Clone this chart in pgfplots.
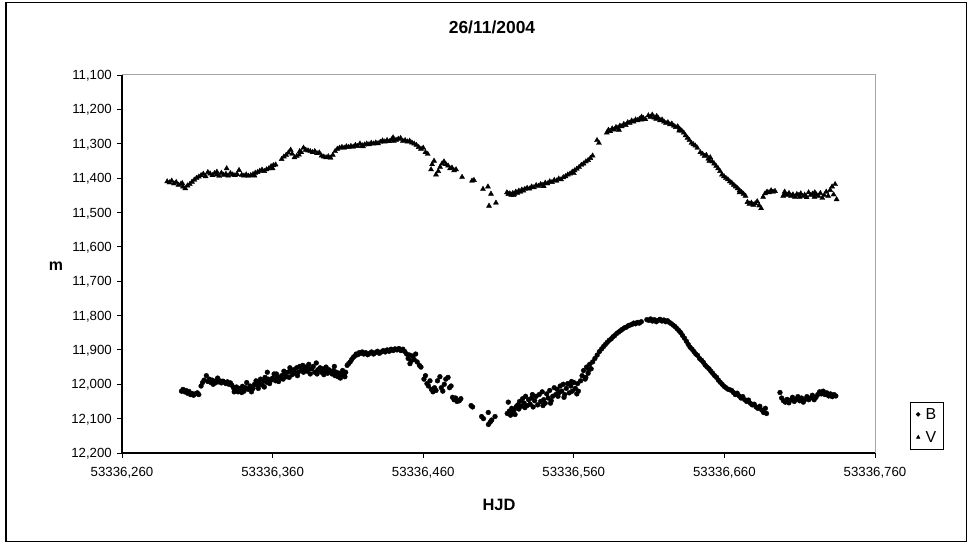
\documentclass[border=0pt]{standalone}
\usepackage{fontspec}
\setmainfont{Liberation Sans}
\usepackage{pgfplots}
\pgfplotsset{compat=1.18}
\usepackage{pgfplotstable}

% column d = HJD - 53336
\pgfplotstableread{
d m
0.2900 11.410
0.2915 11.413
0.2930 11.408
0.2945 11.416
0.2960 11.412
0.2975 11.420
0.2990 11.418
0.3000 11.415
0.3005 11.425
0.3020 11.430
0.3035 11.422
0.3050 11.418
0.3065 11.411
0.3080 11.405
0.3095 11.400
0.3110 11.396
0.3125 11.392
0.3140 11.388
0.3155 11.395
0.3170 11.383
0.3185 11.387
0.3200 11.392
0.3215 11.386
0.3230 11.390
0.3230 11.382
0.3245 11.394
0.3260 11.385
0.3275 11.391
0.3290 11.388
0.3295 11.372
0.3305 11.393
0.3320 11.386
0.3335 11.390
0.3350 11.392
0.3365 11.389
0.3377 11.377
0.3395 11.391
0.3410 11.393
0.3425 11.390
0.3440 11.394
0.3455 11.392
0.3470 11.389
0.3480 11.393
0.3485 11.385
0.3500 11.383
0.3515 11.379
0.3530 11.376
0.3545 11.380
0.3560 11.375
0.3575 11.372
0.3590 11.366
0.3600 11.372
0.3605 11.363
0.3620 11.361
0.3660 11.345
0.3675 11.338
0.3690 11.333
0.3705 11.326
0.3720 11.318
0.3730 11.330
0.3745 11.340
0.3760 11.336
0.3775 11.332
0.3780 11.322
0.3790 11.325
0.3805 11.312
0.3820 11.318
0.3835 11.320
0.3850 11.322
0.3865 11.325
0.3880 11.322
0.3895 11.328
0.3910 11.326
0.3925 11.335
0.3940 11.338
0.3955 11.340
0.3970 11.337
0.3985 11.341
0.4000 11.333
0.4015 11.322
0.4030 11.315
0.4045 11.312
0.4060 11.310
0.4075 11.312
0.4090 11.308
0.4105 11.310
0.4120 11.307
0.4135 11.309
0.4150 11.304
0.4165 11.307
0.4180 11.300
0.4195 11.305
0.4200 11.308
0.4210 11.303
0.4225 11.300
0.4240 11.302
0.4255 11.298
0.4270 11.300
0.4285 11.297
0.4300 11.299
0.4315 11.295
0.4330 11.291
0.4345 11.294
0.4360 11.290
0.4375 11.293
0.4390 11.288
0.4400 11.282
0.4405 11.292
0.4420 11.289
0.4435 11.286
0.4450 11.284
0.4465 11.292
0.4480 11.290
0.4495 11.294
0.4510 11.292
0.4525 11.297
0.4540 11.300
0.4555 11.304
0.4570 11.310
0.4585 11.315
0.4600 11.312
0.4615 11.325
0.4630 11.330
0.4652 11.375
0.4659 11.360
0.4672 11.350
0.4685 11.390
0.4700 11.380
0.4712 11.368
0.4725 11.358
0.4738 11.352
0.4751 11.360
0.4765 11.364
0.4778 11.372
0.4791 11.370
0.4805 11.378
0.4818 11.375
0.4858 11.397
0.4924 11.408
0.4937 11.406
0.4997 11.432
0.5030 11.425
0.5037 11.481
0.5050 11.446
0.5083 11.472
0.5156 11.442
0.5165 11.447
0.5175 11.445
0.5185 11.449
0.5195 11.444
0.5200 11.450
0.5205 11.446
0.5215 11.440
0.5225 11.443
0.5235 11.437
0.5245 11.440
0.5255 11.434
0.5265 11.437
0.5275 11.432
0.5290 11.429
0.5305 11.431
0.5320 11.425
0.5335 11.427
0.5350 11.421
0.5365 11.423
0.5380 11.418
0.5395 11.420
0.5400 11.424
0.5410 11.414
0.5425 11.416
0.5440 11.410
0.5455 11.412
0.5470 11.406
0.5485 11.408
0.5500 11.402
0.5515 11.404
0.5530 11.398
0.5545 11.395
0.5560 11.390
0.5575 11.387
0.5590 11.382
0.5600 11.386
0.5605 11.378
0.5620 11.373
0.5635 11.368
0.5650 11.362
0.5665 11.358
0.5680 11.352
0.5695 11.348
0.5710 11.342
0.5725 11.335
0.5754 11.290
0.5767 11.298
0.5819 11.268
0.5830 11.260
0.5842 11.264
0.5855 11.256
0.5868 11.259
0.5880 11.252
0.5893 11.254
0.5900 11.260
0.5906 11.248
0.5919 11.250
0.5932 11.243
0.5945 11.246
0.5958 11.238
0.5971 11.240
0.5984 11.233
0.5997 11.236
0.6010 11.230
0.6023 11.232
0.6036 11.228
0.6049 11.230
0.6050 11.222
0.6062 11.226
0.6075 11.229
0.6095 11.218
0.6108 11.222
0.6121 11.216
0.6134 11.224
0.6147 11.228
0.6150 11.220
0.6160 11.225
0.6173 11.232
0.6186 11.230
0.6199 11.236
0.6212 11.240
0.6225 11.238
0.6238 11.244
0.6251 11.242
0.6264 11.248
0.6277 11.252
0.6290 11.250
0.6300 11.262
0.6303 11.257
0.6316 11.262
0.6330 11.268
0.6342 11.276
0.6355 11.283
0.6368 11.290
0.6381 11.298
0.6394 11.302
0.6407 11.306
0.6420 11.312
0.6440 11.325
0.6455 11.330
0.6468 11.336
0.6480 11.333
0.6493 11.344
0.6500 11.350
0.6506 11.340
0.6519 11.352
0.6532 11.358
0.6545 11.365
0.6558 11.372
0.6571 11.380
0.6584 11.390
0.6597 11.395
0.6610 11.400
0.6623 11.404
0.6636 11.410
0.6649 11.414
0.6662 11.420
0.6675 11.425
0.6688 11.430
0.6700 11.442
0.6701 11.436
0.6714 11.441
0.6727 11.446
0.6740 11.452
0.6753 11.470
0.6766 11.475
0.6779 11.472
0.6792 11.478
0.6805 11.474
0.6818 11.468
0.6831 11.480
0.6844 11.488
0.6857 11.455
0.6870 11.445
0.6883 11.440
0.6896 11.442
0.6910 11.436
0.6923 11.440
0.6936 11.438
0.6990 11.452
0.7000 11.440
0.7003 11.446
0.7016 11.449
0.7029 11.444
0.7042 11.452
0.7055 11.448
0.7068 11.455
0.7081 11.447
0.7094 11.450
0.7100 11.455
0.7107 11.445
0.7120 11.453
0.7133 11.449
0.7146 11.456
0.7159 11.442
0.7172 11.450
0.7185 11.446
0.7198 11.455
0.7200 11.442
0.7211 11.448
0.7224 11.452
0.7237 11.444
0.7250 11.458
0.7263 11.450
0.7276 11.440
0.7289 11.452
0.7302 11.435
0.7315 11.425
0.7325 11.448
0.7335 11.418
0.7345 11.462
}\Vdata

\pgfplotstableread{
d m
0.2995 12.020
0.3005 12.015
0.3015 12.022
0.3025 12.018
0.3035 12.026
0.3045 12.021
0.3055 12.030
0.3065 12.027
0.3075 12.032
0.3085 12.028
0.3100 12.025
0.3110 12.030
0.3125 12.005
0.3135 11.995
0.3145 11.988
0.3160 11.975
0.3170 11.992
0.3180 11.985
0.3190 11.995
0.3200 11.988
0.3205 12.000
0.3210 11.992
0.3220 11.996
0.3230 11.989
0.3235 11.982
0.3240 11.993
0.3250 11.990
0.3260 11.996
0.3270 11.991
0.3280 11.994
0.3290 11.998
0.3300 11.993
0.3310 12.000
0.3320 11.996
0.3330 12.003
0.3340 12.010
0.3345 12.022
0.3350 12.018
0.3360 12.008
0.3370 12.022
0.3380 12.012
0.3390 12.016
0.3395 12.024
0.3400 12.006
0.3410 12.020
0.3420 12.010
0.3428 11.995
0.3440 12.015
0.3450 12.005
0.3460 12.022
0.3470 12.012
0.3480 12.000
0.3490 11.990
0.3500 12.004
0.3505 12.012
0.3510 11.995
0.3520 11.985
0.3530 12.002
0.3540 11.990
0.3545 12.008
0.3550 11.980
0.3560 11.994
0.3565 11.965
0.3570 11.985
0.3580 11.998
0.3590 11.988
0.3600 11.982
0.3610 11.970
0.3620 11.990
0.3625 11.970
0.3630 11.978
0.3640 11.992
0.3650 11.982
0.3660 11.975
0.3670 11.985
0.3675 11.962
0.3680 11.968
0.3690 11.978
0.3700 11.965
0.3710 11.980
0.3715 11.952
0.3720 11.960
0.3730 11.972
0.3740 11.958
0.3750 11.968
0.3760 11.952
0.3765 11.975
0.3770 11.965
0.3780 11.948
0.3790 11.960
0.3800 11.945
0.3805 11.965
0.3810 11.958
0.3820 11.950
0.3830 11.962
0.3840 11.942
0.3845 11.955
0.3850 11.970
0.3860 11.955
0.3870 11.948
0.3880 11.965
0.3890 11.938
0.3895 11.970
0.3900 11.958
0.3915 11.952
0.3925 11.965
0.3935 11.955
0.3940 11.972
0.3945 11.960
0.3955 11.950
0.3965 11.968
0.3975 11.958
0.3985 11.962
0.3995 11.970
0.4005 11.960
0.4010 11.948
0.4015 11.975
0.4025 11.965
0.4035 11.978
0.4045 11.968
0.4050 11.982
0.4055 11.972
0.4065 11.960
0.4075 11.974
0.4080 11.978
0.4085 11.965
0.4095 11.945
0.4105 11.940
0.4115 11.935
0.4125 11.928
0.4135 11.922
0.4145 11.918
0.4155 11.912
0.4165 11.914
0.4175 11.908
0.4185 11.910
0.4195 11.906
0.4205 11.912
0.4218 11.908
0.4231 11.914
0.4244 11.910
0.4257 11.906
0.4270 11.912
0.4283 11.908
0.4296 11.904
0.4309 11.910
0.4322 11.906
0.4335 11.902
0.4348 11.906
0.4361 11.900
0.4374 11.904
0.4387 11.898
0.4400 11.902
0.4413 11.897
0.4426 11.900
0.4439 11.896
0.4452 11.902
0.4465 11.898
0.4478 11.905
0.4490 11.912
0.4500 11.925
0.4510 11.915
0.4512 11.940
0.4520 11.932
0.4530 11.918
0.4540 11.928
0.4550 11.912
0.4560 11.935
0.4575 11.945
0.4585 11.950
0.4605 11.985
0.4615 11.975
0.4625 11.998
0.4635 12.005
0.4645 11.990
0.4655 12.015
0.4665 12.022
0.4675 12.010
0.4685 12.018
0.4695 11.990
0.4711 11.978
0.4720 12.010
0.4730 12.020
0.4740 12.000
0.4750 11.985
0.4765 11.980
0.4775 12.010
0.4785 12.005
0.4795 12.038
0.4805 12.045
0.4815 12.040
0.4825 12.050
0.4840 12.048
0.4850 12.042
0.4918 12.062
0.4928 12.066
0.4988 12.094
0.5000 12.100
0.5032 12.082
0.5033 12.117
0.5045 12.110
0.5055 12.104
0.5077 12.094
0.5158 12.085
0.5165 12.052
0.5172 12.078
0.5180 12.090
0.5188 12.070
0.5195 12.082
0.5203 12.075
0.5210 12.088
0.5218 12.065
0.5228 12.060
0.5235 12.072
0.5240 12.050
0.5250 12.064
0.5260 12.042
0.5270 12.055
0.5275 12.068
0.5280 12.035
0.5290 12.062
0.5300 12.045
0.5310 12.058
0.5320 12.040
0.5325 12.030
0.5330 12.066
0.5340 12.048
0.5350 12.035
0.5360 12.060
0.5370 12.030
0.5380 12.050
0.5390 12.022
0.5395 12.062
0.5400 12.045
0.5410 12.055
0.5420 12.028
0.5430 12.040
0.5440 12.018
0.5445 12.055
0.5450 12.048
0.5460 12.035
0.5470 12.010
0.5480 12.030
0.5490 12.015
0.5495 12.035
0.5500 12.025
0.5510 12.005
0.5520 12.020
0.5530 12.000
0.5535 12.038
0.5540 12.030
0.5550 12.012
0.5560 11.998
0.5570 12.025
0.5580 12.005
0.5585 11.992
0.5590 12.020
0.5600 11.995
0.5610 12.012
0.5620 12.028
0.5625 11.998
0.5630 12.020
0.5645 11.990
0.5655 11.975
0.5665 11.960
0.5675 11.985
0.5680 11.980
0.5685 11.950
0.5695 11.968
0.5700 11.958
0.5705 11.942
0.5715 11.955
0.5725 11.935
0.5740 11.925
0.5755 11.915
0.5770 11.905
0.5785 11.897
0.5798 11.890
0.5810 11.884
0.5822 11.878
0.5835 11.872
0.5848 11.868
0.5860 11.862
0.5872 11.858
0.5885 11.852
0.5898 11.848
0.5910 11.844
0.5922 11.840
0.5935 11.836
0.5948 11.834
0.5960 11.830
0.5972 11.828
0.5985 11.826
0.5998 11.822
0.6010 11.824
0.6022 11.820
0.6035 11.822
0.6048 11.818
0.6085 11.812
0.6098 11.814
0.6110 11.810
0.6122 11.816
0.6135 11.812
0.6148 11.818
0.6160 11.814
0.6172 11.811
0.6185 11.816
0.6198 11.813
0.6210 11.818
0.6222 11.815
0.6235 11.820
0.6248 11.824
0.6260 11.828
0.6272 11.832
0.6285 11.838
0.6298 11.844
0.6310 11.850
0.6322 11.858
0.6335 11.866
0.6348 11.875
0.6360 11.884
0.6372 11.892
0.6385 11.898
0.6398 11.905
0.6410 11.912
0.6422 11.916
0.6435 11.925
0.6448 11.930
0.6460 11.936
0.6472 11.944
0.6485 11.950
0.6498 11.955
0.6510 11.962
0.6522 11.968
0.6535 11.975
0.6548 11.980
0.6560 11.988
0.6572 11.994
0.6585 12.000
0.6598 12.006
0.6610 12.010
0.6622 12.014
0.6635 12.016
0.6648 12.018
0.6660 12.024
0.6672 12.030
0.6685 12.026
0.6698 12.034
0.6710 12.040
0.6722 12.036
0.6735 12.045
0.6748 12.050
0.6760 12.046
0.6772 12.055
0.6785 12.060
0.6798 12.058
0.6810 12.066
0.6822 12.070
0.6835 12.064
0.6848 12.075
0.6860 12.082
0.6872 12.070
0.6880 12.085
0.6969 12.024
0.6980 12.040
0.6992 12.048
0.7004 12.052
0.7016 12.044
0.7028 12.054
0.7040 12.046
0.7052 12.038
0.7064 12.050
0.7076 12.044
0.7088 12.036
0.7100 12.048
0.7112 12.040
0.7124 12.052
0.7136 12.044
0.7148 12.036
0.7160 12.045
0.7172 12.040
0.7184 12.032
0.7196 12.045
0.7208 12.038
0.7220 12.030
0.7232 12.022
0.7244 12.028
0.7256 12.020
0.7268 12.030
0.7280 12.025
0.7292 12.034
0.7304 12.028
0.7316 12.036
0.7328 12.030
0.7340 12.034
}\Bdata

\begin{document}
\begin{tikzpicture}[x=1bp,y=1bp]
\useasboundingbox (0,0) rectangle (969,544);
\draw[line width=1.4bp] (6,2.5) rectangle (966.5,541.5);
\node[font=\bfseries\fontsize{17.5}{20}\selectfont, text depth=0pt] at (492,517.3) {26/11/2004};
\node[font=\bfseries\fontsize{16}{18}\selectfont, text depth=0pt] at (56,278) {m};
\node[font=\bfseries\fontsize{16.5}{19}\selectfont, text depth=0pt] at (499,39) {HJD};
\begin{axis}[
  at={(122bp,91bp)}, anchor=south west,
  scale only axis, width=753bp, height=378bp,
  xmin=0.26, xmax=0.76, ymin=11.1, ymax=12.2, y dir=reverse,
  xtick={0.26,0.36,0.46,0.56,0.66,0.76},
  xticklabels={{53336,260},{53336,360},{53336,460},{53336,560},{53336,660},{53336,760}},
  ytick={11.1,11.2,11.3,11.4,11.5,11.6,11.7,11.8,11.9,12.0,12.1,12.2},
  yticklabels={{11,100},{11,200},{11,300},{11,400},{11,500},{11,600},{11,700},{11,800},{11,900},{12,000},{12,100},{12,200}},
  xtick pos=bottom, ytick pos=left,
  tick align=outside, major tick length=5bp,
  tick style={black, line width=0.9bp},
  axis line style={draw=gray!70, line width=1bp},
  ticklabel style={font=\fontsize{13.3}{15}\selectfont, text depth=0pt},
  xticklabel style={inner sep=0pt, anchor=north, yshift=-9bp},
  yticklabel style={inner sep=0pt, anchor=east, xshift=-5bp},
  /pgf/number format/assume math mode=true,
  clip=false,
  legend style={at={(axis description cs:1.0465,0.1349)}, anchor=north west,
    draw=black, line width=0.8bp, font=\fontsize{16}{18}\selectfont,
    inner xsep=6bp, inner ysep=5bp, row sep=9bp,
    /tikz/every odd column/.style={column sep=4bp},
    nodes={inner sep=1.5bp, text depth=0pt}},
  legend cell align=left,
  legend image code/.code={\draw[#1, mark size=1.8bp] plot coordinates {(0bp,0bp)};},
]
\addplot[only marks, mark=*, mark size=2.4bp, black] table[x=d, y=m] {\Bdata};
\addlegendentry{B}
\addplot[only marks, mark=triangle*, mark size=2.9bp, black] table[x=d, y=m] {\Vdata};
\addlegendentry{V}
\draw[black, line width=1.3bp] (axis description cs:0,1) -- (axis description cs:0,0) -- (axis description cs:1,0);
\end{axis}
\end{tikzpicture}
\end{document}
